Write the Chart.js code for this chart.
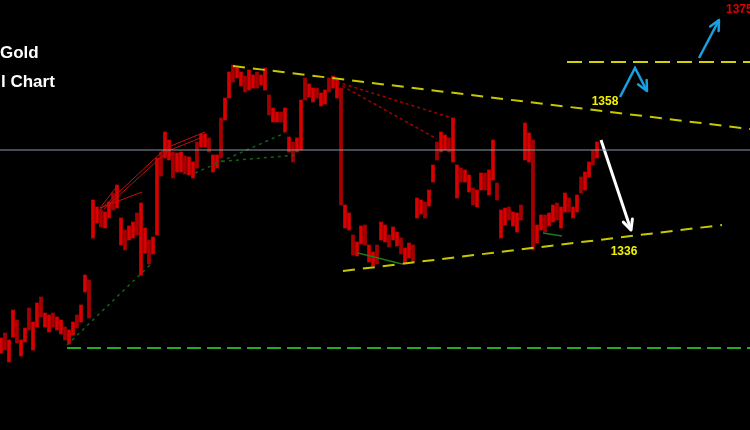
<!DOCTYPE html>
<html>
<head>
<meta charset="utf-8">
<script src="https://cdn.jsdelivr.net/npm/chart.js@4.4.1/dist/chart.umd.min.js"></script>
<style>
  html,body{margin:0;padding:0;background:#000;}
  #wrap{width:750px;height:430px;position:relative;}
</style>
</head>
<body>
<div id="wrap"><canvas id="c" width="750" height="430"></canvas></div>
<script>
// ---- price bars (high / low), one per bar index ----
const highs = [1315.4,1316.4,1315.0,1321.0,1319.0,1315.0,1317.4,1321.4,1318.6,1322.4,
  1323.6,1320.4,1320.0,1320.4,1319.6,1319.0,1317.6,1317.0,1318.6,1320.0,
  1322.0,1328.0,1327.0,1343.0,1341.6,1341.0,1340.6,1342.6,1344.4,1346.0,
  1339.4,1337.0,1337.8,1338.6,1340.4,1342.4,1337.4,1335.0,1335.6,1351.4,
  1352.6,1356.6,1355.0,1352.6,1352.4,1352.6,1351.8,1351.6,1350.6,1354.6,
  1356.2,1356.2,1355.4,1352.0,1352.0,1359.4,1363.4,1368.6,1370.0,1369.4,
  1368.6,1367.8,1369.0,1368.0,1368.6,1368.0,1369.4,1364.0,1361.4,1360.6,
  1360.6,1361.4,1355.6,1354.6,1355.4,1363.0,1367.4,1366.2,1365.4,1365.4,
  1364.4,1365.0,1367.4,1367.8,1367.0,1365.4,1342.0,1340.4,1336.0,1334.6,
  1337.8,1338.0,1334.0,1332.6,1334.0,1338.6,1338.0,1336.0,1337.6,1336.6,
  1335.4,1333.4,1334.4,1334.0,1343.4,1343.0,1342.6,1345.0,1350.0,1354.6,
  1356.6,1356.0,1355.4,1359.4,1350.0,1349.4,1349.0,1348.0,1345.4,1345.0,
  1348.4,1348.4,1349.0,1355.0,1346.4,1341.0,1341.4,1341.6,1340.6,1340.4,
  1342.0,1358.4,1356.4,1355.0,1338.0,1340.0,1340.0,1340.4,1342.0,1342.4,
  1341.6,1344.4,1343.4,1341.6,1344.0,1347.6,1348.6,1350.6,1353.0,1354.6];
const lows = [1312.4,1313.0,1310.6,1315.6,1314.4,1311.8,1314.6,1317.0,1313.0,1317.6,
  1319.6,1317.6,1316.6,1317.6,1317.0,1316.2,1315.0,1314.2,1316.0,1317.4,
  1318.6,1324.6,1319.4,1335.4,1338.4,1337.6,1337.4,1339.4,1341.0,1341.4,
  1334.0,1333.0,1335.0,1335.4,1336.0,1328.0,1332.4,1330.2,1332.2,1336.0,
  1347.8,1351.4,1351.0,1347.4,1348.6,1348.6,1348.2,1348.0,1347.4,1349.4,
  1353.6,1353.6,1352.6,1348.6,1349.4,1351.4,1359.0,1363.4,1366.6,1367.4,
  1365.8,1364.6,1365.0,1365.4,1365.4,1366.0,1365.0,1360.0,1358.6,1358.6,
  1358.6,1356.6,1352.6,1350.6,1352.6,1353.0,1363.0,1363.6,1362.6,1363.4,
  1361.8,1362.2,1364.6,1365.4,1363.4,1342.0,1337.4,1337.0,1332.0,1331.8,
  1334.2,1334.0,1330.6,1329.8,1330.2,1335.0,1334.6,1333.6,1335.0,1333.8,
  1332.2,1330.4,1331.4,1330.6,1339.4,1340.2,1339.4,1341.8,1346.6,1351.0,
  1352.6,1353.0,1352.6,1350.6,1343.4,1346.6,1346.6,1344.6,1342.0,1341.6,
  1345.0,1345.0,1344.0,1347.0,1343.0,1335.4,1338.0,1339.0,1337.8,1336.6,
  1339.0,1351.0,1350.6,1333.0,1334.4,1337.0,1336.6,1337.8,1338.6,1339.0,
  1337.4,1340.6,1340.6,1339.4,1340.6,1344.4,1345.0,1347.6,1350.0,1351.4];

// ---- axis ranges ----
const xRange = [-0.25, 187.25];
const yRange = [1297, 1383];

// ---- drawn lines: [barIndex, price] anchor points ----
const greyLevel      = [[-0.25,1353.0],[187.25,1353.0]];
const greenBase      = [[16.5,1313.4],[187.25,1313.4]];
const greenDot1      = [[16.5,1314.0],[37.75,1330.4]];
const greenDot2      = [[48.5,1348.4],[71,1356.4]];
const greenDot3      = [[53.5,1350.6],[74,1352.0]];
const redLine1       = [[24.75,1341.4],[35.25,1344.6]];
const redLine2       = [[24.75,1341.4],[29.25,1346.0]];
const redLine3       = [[24.75,1341.0],[41.25,1353.4],[51,1356.6]];
const redLine4       = [[25.75,1341.2],[41.75,1352.8],[51,1355.8]];
const redDot1        = [[84,1366.6],[112.75,1359.4]];
const redDot2        = [[84,1366.4],[109,1355.2]];
const yellowUpper    = [[58,1369.8],[187.25,1357.2]];
const yellowLower    = [[85.5,1328.8],[180.25,1338.0]];
const yellowLevel    = [[141.5,1370.6],[187.25,1370.6]];
const greenSeg1      = [[89.25,1332.4],[100.25,1330.2]];
const greenSeg2      = [[135.5,1336.4],[140.25,1335.8]];
const blueZig        = [[154.75,1363.6],[158.5,1369.4],[161.5,1364.8]];
const blueUp         = [[174.5,1371.4],[179.5,1379.0]];
const whiteDown      = [[150,1355.0],[157.5,1337.0]];

// ---- labels ----
const priceLabels = [
  {text:'1358', x:151, y:1362.6, color:'#f2f200', align:'center'},
  {text:'1336', x:155.75, y:1332.6, color:'#f2f200', align:'center'},
  {text:'1375', x:181.25, y:1381.0, color:'#e00000', align:'left'}
];
const titleLines = ['Gold', 'l Chart'];

const pts = a => a.map(p => ({x:p[0], y:p[1]}));
function lineDs(arr, color, width, dash, extra){
  return Object.assign({
    type:'line', data:pts(arr), borderColor:color, borderWidth:width,
    borderDash:dash||[], pointRadius:0, tension:0, fill:false, order:1,
    borderCapStyle:'butt'
  }, extra||{});
}

const datasets = [
  {type:'bar', data:highs.map((h,i)=>({x:i, y:[lows[i], h]})),
   backgroundColor:highs.map((h,i)=> (i%3===1 ? '#a80000' : '#d80000')),
   borderWidth:0, barThickness:3, order:10},
  lineDs(greyLevel, '#8b97a8', 1),
  lineDs(greenBase, '#22aa22', 2, [14,6]),
  lineDs(greenDot1, '#166016', 1.5, [3,4]),
  lineDs(greenDot2, '#166016', 1.5, [3,4]),
  lineDs(greenDot3, '#166016', 1.5, [3,4]),
  lineDs(redLine1, '#c01010', 1),
  lineDs(redLine2, '#c01010', 1),
  lineDs(redLine3, '#c01010', 1),
  lineDs(redLine4, '#c01010', 1),
  lineDs(redDot1, '#a80000', 1.5, [3,3]),
  lineDs(redDot2, '#a80000', 1.5, [3,3]),
  lineDs(yellowUpper, '#c8c800', 2, [12,8]),
  lineDs(yellowLower, '#c8c800', 2, [12,8]),
  lineDs(yellowLevel, '#d2d200', 2, [15,7]),
  lineDs(greenSeg1, '#1b7a1b', 1.5),
  lineDs(greenSeg2, '#1b7a1b', 1.5),
  lineDs(blueZig, '#1aa0e0', 2.5, [], {arrow:true}),
  lineDs(blueUp, '#1aa0e0', 2.5, [], {arrow:true}),
  lineDs(whiteDown, '#ffffff', 3, [], {arrow:true})
];

const overlay = {
  id:'overlay',
  afterDatasetsDraw(chart){
    const ctx = chart.ctx;
    const xs = chart.scales.x, ys = chart.scales.y;
    chart.data.datasets.forEach((ds) => {
      if(!ds.arrow) return;
      const d = ds.data, n = d.length;
      const x1 = xs.getPixelForValue(d[n-2].x), y1 = ys.getPixelForValue(d[n-2].y);
      const x2 = xs.getPixelForValue(d[n-1].x), y2 = ys.getPixelForValue(d[n-1].y);
      const ang = Math.atan2(y2-y1, x2-x1), L = 11, w = 0.45;
      ctx.save();
      ctx.strokeStyle = ds.borderColor; ctx.lineWidth = ds.borderWidth;
      ctx.lineCap = 'round'; ctx.lineJoin='round';
      ctx.beginPath();
      ctx.moveTo(x2 - L*Math.cos(ang-w), y2 - L*Math.sin(ang-w));
      ctx.lineTo(x2, y2);
      ctx.lineTo(x2 - L*Math.cos(ang+w), y2 - L*Math.sin(ang+w));
      ctx.stroke();
      ctx.restore();
    });
    ctx.save();
    ctx.font = 'bold 12px "Liberation Sans", Arial, sans-serif';
    ctx.textBaseline = 'middle';
    priceLabels.forEach(l => {
      ctx.fillStyle = l.color; ctx.textAlign = l.align;
      ctx.fillText(l.text, xs.getPixelForValue(l.x), ys.getPixelForValue(l.y));
    });
    ctx.fillStyle = '#ffffff';
    ctx.font = 'bold 17px "Liberation Sans", Arial, sans-serif';
    ctx.textAlign = 'left'; ctx.textBaseline = 'alphabetic';
    ctx.fillText(titleLines[0], 0, 58);
    ctx.fillText(titleLines[1], 1, 87);
    ctx.restore();
  }
};

new Chart(document.getElementById('c'), {
  type:'bar',
  data:{datasets},
  options:{
    responsive:false, animation:false,
    layout:{padding:0},
    plugins:{legend:{display:false}, tooltip:{enabled:false}},
    scales:{
      x:{type:'linear', min:xRange[0], max:xRange[1], display:false, offset:false, grid:{offset:false}},
      y:{type:'linear', min:yRange[0], max:yRange[1], display:false}
    }
  },
  plugins:[overlay]
});
</script>
</body>
</html>
